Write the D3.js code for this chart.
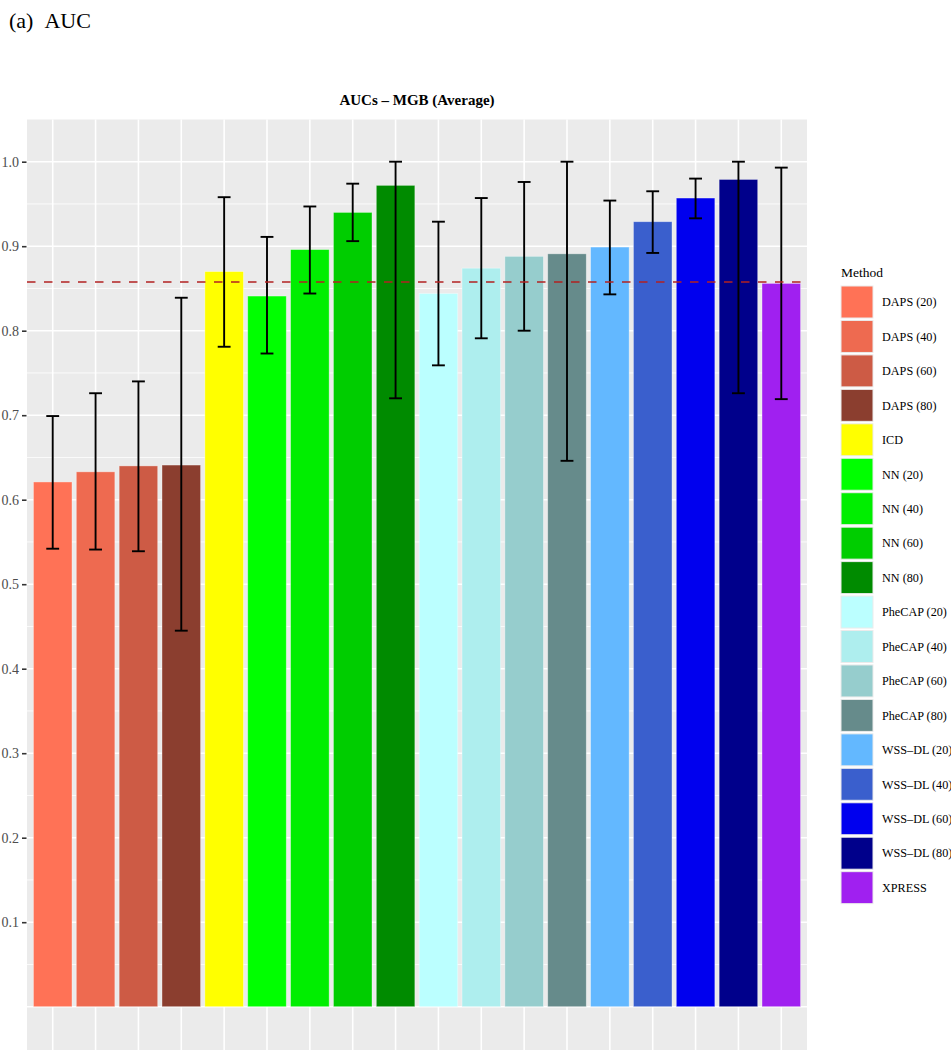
<!DOCTYPE html>
<html>
<head>
<meta charset="utf-8">
<script src="https://cdn.jsdelivr.net/npm/d3@7"></script>
<style>
  html, body { margin: 0; padding: 0; background: #fff; }
  svg { display: block; }
</style>
</head>
<body>
<div id="chart"></div>
<script>
// ---- Data ----
const methods = ["DAPS (20)", "DAPS (40)", "DAPS (60)", "DAPS (80)", "ICD",
  "NN (20)", "NN (40)", "NN (60)", "NN (80)",
  "PheCAP (20)", "PheCAP (40)", "PheCAP (60)", "PheCAP (80)",
  "WSS–DL (20)", "WSS–DL (40)", "WSS–DL (60)", "WSS–DL (80)", "XPRESS"];
const aucMean = [0.621, 0.633, 0.640, 0.641, 0.870,
  0.841, 0.896, 0.940, 0.972,
  0.844, 0.874, 0.888, 0.891,
  0.899, 0.929, 0.957, 0.979, 0.856];
const aucLower = [0.542, 0.541, 0.539, 0.445, 0.781,
  0.773, 0.844, 0.906, 0.720,
  0.759, 0.791, 0.800, 0.646,
  0.843, 0.892, 0.933, 0.726, 0.719];
const aucUpper = [0.699, 0.726, 0.740, 0.839, 0.958,
  0.911, 0.947, 0.974, 1.000,
  0.929, 0.957, 0.976, 1.000,
  0.954, 0.965, 0.980, 1.000, 0.993];
const colors = ["#FF7256", "#EE6A50", "#CD5B45", "#8B3E2F", "#FFFF00",
  "#00FF00", "#00EE00", "#00CD00", "#008B00",
  "#BBFFFF", "#AEEEEE", "#96CDCD", "#668B8B",
  "#63B8FF", "#3A5FCD", "#0000EE", "#00008B", "#A020F0"];
const referenceLine = 0.8577;
const yTickValues = [0.1, 0.2, 0.3, 0.4, 0.5, 0.6, 0.7, 0.8, 0.9, 1.0];
const yMajorGrid = [0, 0.1, 0.2, 0.3, 0.4, 0.5, 0.6, 0.7, 0.8, 0.9, 1.0];
const yMinorGrid = [0.05, 0.15, 0.25, 0.35, 0.45, 0.55, 0.65, 0.75, 0.85, 0.95];
const chartTitle = "AUCs – MGB (Average)";
const panelLabel = "(a)\u00A0\u00A0AUC";
const legendTitle = "Method";

// ---- Layout ----
const W = 951, H = 1050;
const panel = { left: 27, right: 807, top: 119.5, bottom: 1050 };
const serif = "'Liberation Serif', 'Times New Roman', serif";

const data = methods.map((m, i) => ({ m, v: aucMean[i], lo: aucLower[i], hi: aucUpper[i], c: colors[i] }));

const svg = d3.select("#chart").append("svg").attr("width", W).attr("height", H);

const x = d3.scaleBand().domain(methods).range([panel.left, panel.right])
  .paddingInner(0.1).paddingOuter(0.15);
const y = d3.scaleLinear().domain([0, 1]).range([1006.7, 161.7]);

// panel background
svg.append("rect").attr("x", panel.left).attr("y", panel.top)
  .attr("width", panel.right - panel.left).attr("height", panel.bottom - panel.top)
  .attr("fill", "#EBEBEB");

const grid = svg.append("g");
grid.selectAll("line.minor").data(yMinorGrid).join("line")
  .attr("x1", panel.left).attr("x2", panel.right)
  .attr("y1", d => y(d)).attr("y2", d => y(d))
  .attr("stroke", "#fff").attr("stroke-width", 0.8);
grid.selectAll("line.major").data(yMajorGrid).join("line")
  .attr("x1", panel.left).attr("x2", panel.right)
  .attr("y1", d => y(d)).attr("y2", d => y(d))
  .attr("stroke", "#fff").attr("stroke-width", 1.6);
grid.selectAll("line.vert").data(methods).join("line")
  .attr("x1", d => x(d) + x.bandwidth() / 2).attr("x2", d => x(d) + x.bandwidth() / 2)
  .attr("y1", panel.top).attr("y2", panel.bottom)
  .attr("stroke", "#fff").attr("stroke-width", 1.6);

// bars
svg.append("g").selectAll("rect").data(data).join("rect")
  .attr("x", d => x(d.m)).attr("width", x.bandwidth())
  .attr("y", d => y(d.v)).attr("height", d => y(0) - y(d.v))
  .attr("fill", d => d.c)
  .attr("stroke", "#fff").attr("stroke-opacity", 0.45).attr("stroke-width", 0.8);

// error bars
const capW = x.step() * 0.3;
const eb = svg.append("g").attr("stroke", "#000").attr("stroke-width", 1.9);
data.forEach(d => {
  const cx = x(d.m) + x.bandwidth() / 2;
  eb.append("line").attr("x1", cx).attr("x2", cx).attr("y1", y(d.hi)).attr("y2", y(d.lo));
  eb.append("line").attr("x1", cx - capW / 2).attr("x2", cx + capW / 2).attr("y1", y(d.hi)).attr("y2", y(d.hi));
  eb.append("line").attr("x1", cx - capW / 2).attr("x2", cx + capW / 2).attr("y1", y(d.lo)).attr("y2", y(d.lo));
});

// reference line
svg.append("line")
  .attr("x1", panel.left).attr("x2", panel.right)
  .attr("y1", y(referenceLine)).attr("y2", y(referenceLine))
  .attr("stroke", "#B22222").attr("stroke-width", 1.6).attr("stroke-dasharray", "8.5,8.5");

// y axis
const yAxis = d3.axisLeft(y).tickValues(yTickValues).tickFormat(d3.format(".1f"))
  .tickSize(4.5).tickPadding(3);
const ya = svg.append("g").attr("transform", `translate(${panel.left - 0.5},0)`).call(yAxis);
ya.select(".domain").remove();
ya.selectAll(".tick line").attr("stroke", "#333").attr("stroke-width", 1.6);
ya.selectAll(".tick text").attr("fill", "#4D4D4D").style("font-family", serif).style("font-size", "14px");

// title
svg.append("text").attr("x", (panel.left + panel.right) / 2).attr("y", 105)
  .attr("text-anchor", "middle").style("font-family", serif).style("font-weight", "bold")
  .style("font-size", "15px").text(chartTitle);

// panel label
svg.append("text").attr("x", 9).attr("y", 28)
  .style("font-family", serif).style("font-size", "22px").text(panelLabel);

// legend
const lg = svg.append("g");
lg.append("text").attr("x", 841).attr("y", 277)
  .style("font-family", serif).style("font-size", "13.5px").text(legendTitle);
const keyH = 34.45, keyTop = 286;
const items = lg.selectAll("g.item").data(data).join("g")
  .attr("transform", (d, i) => `translate(841,${keyTop + i * keyH})`);
items.append("rect").attr("x", 0).attr("y", 0).attr("width", 32).attr("height", 32)
  .attr("fill", d => d.c).attr("stroke", "#EBEBEB").attr("stroke-width", 1);
items.append("text").attr("x", 41).attr("y", 16).attr("dy", "0.35em")
  .style("font-family", serif).style("font-size", "12.2px").text(d => d.m);
</script>
</body>
</html>
